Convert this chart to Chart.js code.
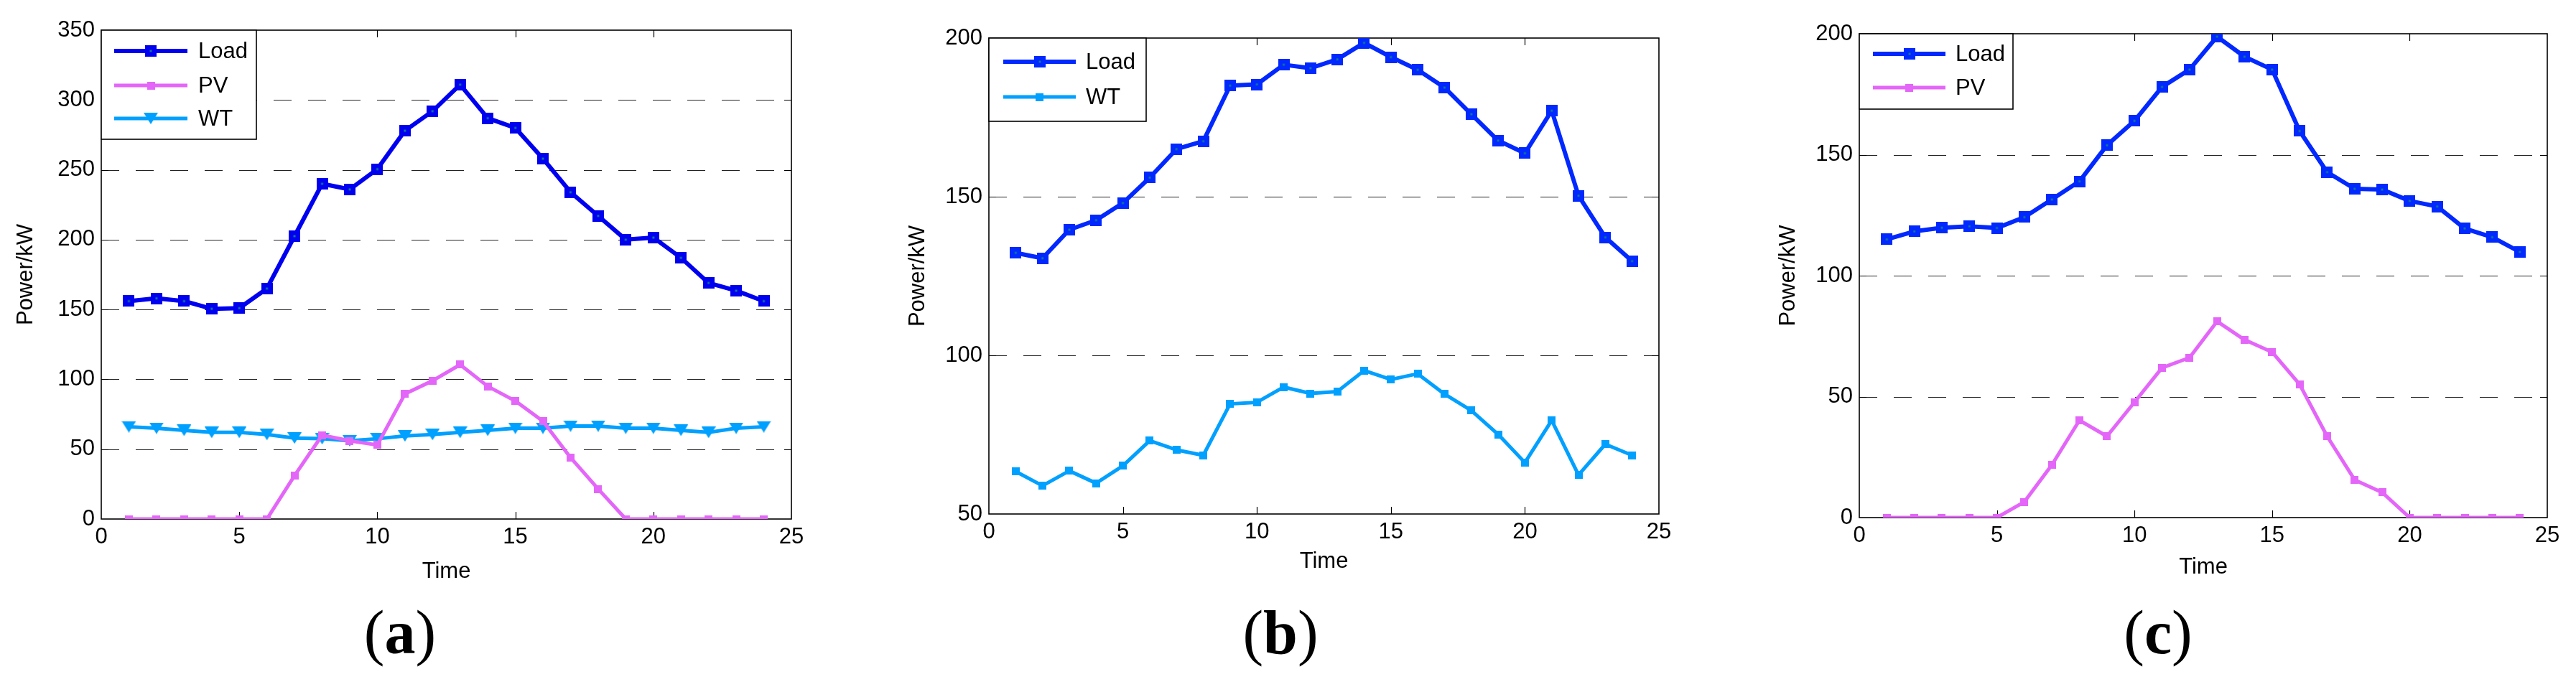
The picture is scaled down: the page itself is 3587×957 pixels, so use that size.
<!DOCTYPE html>
<html>
<head>
<meta charset="utf-8">
<script src="https://cdn.jsdelivr.net/npm/chart.js@4.4.1/dist/chart.umd.min.js"></script>
<style>
  html, body { margin:0; padding:0; background:#fff; }
  body { width:3587px; height:957px; position:relative; overflow:hidden; }
  canvas { position:absolute; top:0; }
  .lab { position:absolute; top:838px; font-family:"Liberation Serif","Times New Roman",serif; font-size:86px; line-height:1; transform:translateX(-50%); color:#000; white-space:nowrap; }
</style>
</head>
<body>
<canvas id="ca" width="1160" height="850" style="left:0px;width:1160px;height:850px"></canvas>
<canvas id="cb" width="1160" height="850" style="left:1200px;width:1160px;height:850px"></canvas>
<canvas id="cc" width="1187" height="850" style="left:2400px;width:1187px;height:850px"></canvas>
<div class="lab" style="left:557px">(<b>a</b>)</div>
<div class="lab" style="left:1783px">(<b>b</b>)</div>
<div class="lab" style="left:3005px">(<b>c</b>)</div>
<script>
// ---------- data ----------
const hours = [1,2,3,4,5,6,7,8,9,10,11,12,13,14,15,16,17,18,19,20,21,22,23,24];
const xTicks = [0,5,10,15,20,25];

const loadA = [156,158,156,150.5,151,165,202.5,240,236,250.5,278,292,311,287,280,258,234,217,200,201.5,187,169,163.5,156];
const pvA   = [0,0,0,0,0,0,31,60,56,53,89.5,99,110.5,95,84.5,70,44,21.5,0,0,0,0,0,0];
const wtA   = [66,65,63.5,62,62,60.5,58,57.5,56,57.5,59.5,60.5,62,63.5,65,65,66.5,66.5,65,65,63.5,62,65,66];
const yTicksA = [0,50,100,150,200,250,300,350];

const loadB = [132.3,130.6,139.6,142.6,148,156,165,167.5,185,185.4,191.6,190.5,193.3,198.5,194,190,184.4,176,167.7,163.7,177.1,150.3,137.2,129.7];
const wtB   = [63.4,58.9,63.6,59.7,65.2,73.1,70.2,68.5,84.7,85.2,90,88,88.6,95.2,92.4,94.2,87.8,82.6,75.1,66.2,79.5,62.3,72,68.5];
const yTicksB = [50,100,150,200];

const loadC = [115,118.3,119.8,120.4,119.7,124.2,131.5,139,153.9,164,178,185.2,198.8,190.5,185.2,159.8,142.8,135.9,135.6,130.9,128.6,119.5,115.9,109.8];
const pvC   = [0,0,0,0,0,6.5,21.8,40.2,33.6,47.7,61.9,66.1,81.1,73.5,68.4,55.1,33.6,15.6,10.4,0,0,0,0,0];
const yTicksC = [0,50,100,150,200];

const seriesNames = ['Load','PV','WT'];
const xTitle = 'Time';
const yTitle = 'Power/kW';

// ---------- styles ----------
const FONT = '"Liberation Sans", Arial, Helvetica, sans-serif';
const COL_LOAD_A = '#0000F0';
const COL_LOAD = '#0028FF';
const COL_PV = '#E466F9';
const COL_WT = '#00A0FF';

function squareMarker(size, color, dot) {
  const c = document.createElement('canvas');
  c.width = size; c.height = size;
  const g = c.getContext('2d');
  g.fillStyle = color; g.fillRect(0,0,size,size);
  if (dot) { g.fillStyle = dot; const d = 3; g.fillRect((size-d)/2,(size-d)/2,d,d); }
  return c;
}
function triMarker(w, h, color) {
  const c = document.createElement('canvas');
  c.width = w; c.height = h;
  const g = c.getContext('2d');
  g.fillStyle = color; g.beginPath(); g.moveTo(0,0); g.lineTo(w,0); g.lineTo(w/2,h); g.closePath(); g.fill();
  return c;
}

function pts(arr) { return hours.map((h,i) => ({x:h, y:arr[i]})); }

function ds(label, arr, color, width, marker) {
  return { label, data: pts(arr), borderColor: color, backgroundColor: color, borderWidth: width,
    pointStyle: marker, pointRadius: 8, pointHoverRadius: 8, tension: 0,
    borderJoinStyle: 'round', borderCapStyle: 'round', fill: false };
}

const framePlugin = {
  id: 'frame',
  beforeDatasetsDraw(chart, args, opts) {
    const {ctx, chartArea: a, scales: {x, y}} = chart;
    ctx.save();
    // dashed grid
    ctx.strokeStyle = '#222'; ctx.lineWidth = 1.2; ctx.setLineDash([25,23]);
    opts.grid.forEach(v => {
      const py = Math.round(y.getPixelForValue(v)) + 0.5;
      ctx.beginPath(); ctx.moveTo(a.left, py); ctx.lineTo(a.right, py); ctx.stroke();
    });
    ctx.setLineDash([]);
    // frame
    ctx.strokeStyle = '#000'; ctx.lineWidth = 1.6;
    ctx.strokeRect(a.left, a.top, a.right - a.left, a.bottom - a.top);
    // inward ticks
    ctx.lineWidth = 1.2;
    const tl = 10;
    xTicks.forEach(v => {
      if (v === x.min || v === x.max) return;
      const px = Math.round(x.getPixelForValue(v)) + 0.5;
      ctx.beginPath(); ctx.moveTo(px, a.bottom); ctx.lineTo(px, a.bottom - tl);
      ctx.moveTo(px, a.top); ctx.lineTo(px, a.top + tl); ctx.stroke();
    });
    opts.yt.forEach(v => {
      if (v === y.min || v === y.max) return;
      const py = Math.round(y.getPixelForValue(v)) + 0.5;
      ctx.beginPath(); ctx.moveTo(a.left, py); ctx.lineTo(a.left + tl, py);
      ctx.moveTo(a.right, py); ctx.lineTo(a.right - tl, py); ctx.stroke();
    });
    ctx.restore();
  },
  afterDraw(chart, args, opts) {
    const {ctx} = chart;
    const L = opts.legend;
    ctx.save();
    ctx.fillStyle = '#fff';
    ctx.fillRect(L.x0, L.y0, L.x1 - L.x0, L.y1 - L.y0);
    ctx.strokeStyle = '#000'; ctx.lineWidth = 1.6;
    ctx.strokeRect(L.x0, L.y0, L.x1 - L.x0, L.y1 - L.y0);
    chart.data.datasets.forEach((d, i) => {
      const ry = L.rows[i];
      ctx.strokeStyle = d.borderColor; ctx.lineWidth = d.borderWidth; ctx.lineCap = 'butt';
      ctx.beginPath(); ctx.moveTo(L.lx0, ry); ctx.lineTo(L.lx1, ry); ctx.stroke();
      const m = d.pointStyle; const mx = (L.lx0 + L.lx1) / 2;
      ctx.drawImage(m, Math.round(mx - m.width/2), Math.round(ry - m.height/2));
      ctx.fillStyle = '#000'; ctx.font = '31px ' + FONT; ctx.textBaseline = 'middle'; ctx.textAlign = 'left';
      ctx.fillText(d.label, L.tx, ry + 1);
    });
    ctx.restore();
  }
};

function makeChart(id, datasets, cfg) {
  return new Chart(document.getElementById(id), {
    type: 'line',
    data: { datasets },
    plugins: [framePlugin],
    options: {
      responsive: false, animation: false, devicePixelRatio: 1,
      layout: { padding: { left: 0, top: cfg.top, right: cfg.right, bottom: cfg.bottom } },
      plugins: { legend: { display: false }, tooltip: { enabled: false },
        frame: { grid: cfg.grid, yt: cfg.yTicks, legend: cfg.legend } },
      scales: {
        x: { type: 'linear', min: 0, max: 25,
          afterFit: s => { s.height = cfg.xh; },
          afterBuildTicks: s => { s.ticks = xTicks.map(v => ({value: v})); },
          grid: { display: false, drawTicks: false }, border: { display: false },
          ticks: { color: '#000', padding: 7, maxRotation: 0, autoSkip: false, font: { family: FONT, size: 31 } },
          title: { display: true, text: xTitle, color: '#000', padding: { top: 0, bottom: 0 }, font: { family: FONT, size: 31 } } },
        y: { type: 'linear', min: cfg.yTicks[0], max: cfg.yTicks[cfg.yTicks.length-1],
          afterFit: s => { s.width = cfg.yw; },
          afterBuildTicks: s => { s.ticks = cfg.yTicks.map(v => ({value: v})); },
          grid: { display: false, drawTicks: false }, border: { display: false },
          ticks: { color: '#000', padding: 9, autoSkip: false, font: { family: FONT, size: 31 } },
          title: { display: true, text: yTitle, color: '#000', padding: { top: cfg.ytp, bottom: 0 }, font: { family: FONT, size: 31 } } }
      }
    }
  });
}

const mLoadA = squareMarker(16, COL_LOAD_A, '#117a8b');
const mLoad = squareMarker(16, COL_LOAD, '#117a8b');
const mPV = squareMarker(11, COL_PV);
const mWTb = squareMarker(11, COL_WT);
const mWTa = triMarker(20, 16, COL_WT);

makeChart('ca', [
  ds(seriesNames[0], loadA, COL_LOAD_A, 6, mLoadA),
  ds(seriesNames[1], pvA, COL_PV, 5, mPV),
  ds(seriesNames[2], wtA, COL_WT, 5, mWTa)
], { top: 42, right: 58, bottom: 35, xh: 92, yw: 141, ytp: 18, yTicks: yTicksA,
     grid: [50,100,150,200,250,300],
     legend: { x0: 141, y0: 42, x1: 357, y1: 194, rows: [71,119,165], lx0: 159, lx1: 261, tx: 276 } });

makeChart('cb', [
  ds(seriesNames[0], loadB, COL_LOAD, 6, mLoad),
  ds(seriesNames[2], wtB, COL_WT, 5, mWTb)
], { top: 53, right: 50, bottom: 49, xh: 85, yw: 177, ytp: 60, yTicks: yTicksB,
     grid: [100,150],
     legend: { x0: 177, y0: 53, x1: 396, y1: 169, rows: [86,135], lx0: 197, lx1: 298, tx: 312 } });

makeChart('cc', [
  ds(seriesNames[0], loadC, COL_LOAD, 6, mLoad),
  ds(seriesNames[1], pvC, COL_PV, 5, mPV)
], { top: 47, right: 40, bottom: 41, xh: 88, yw: 189, ytp: 72, yTicks: yTicksC,
     grid: [50,100,150],
     legend: { x0: 189, y0: 47, x1: 403, y1: 152, rows: [75,122], lx0: 208, lx1: 309, tx: 323 } });
</script>
</body>
</html>
